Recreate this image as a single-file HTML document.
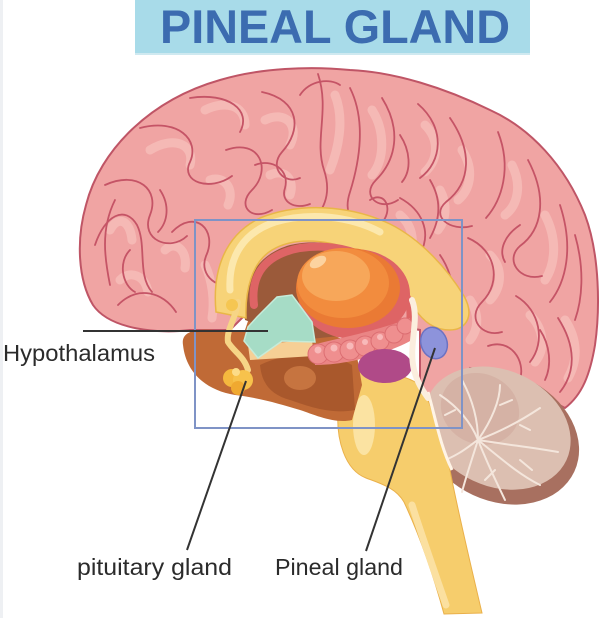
<!DOCTYPE html>
<html><head><meta charset="utf-8"><style>
html,body{margin:0;padding:0;background:#fff;}
svg{display:block;}
</style></head><body>
<svg width="601" height="618" viewBox="0 0 601 618" xmlns="http://www.w3.org/2000/svg">
<rect x="0" y="0" width="601" height="618" fill="#ffffff"/>
<rect x="0" y="0" width="3" height="618" fill="#eef0f3"/>

<!-- Title -->
<rect x="135" y="0" width="395" height="55" fill="#cfe9f0"/>
<rect x="135" y="0" width="395" height="53" fill="#a8dbe9"/>
<text x="335" y="43" text-anchor="middle" font-family="Liberation Sans, sans-serif" font-weight="bold" font-size="47" fill="#3c6cb0" textLength="350" lengthAdjust="spacingAndGlyphs">PINEAL GLAND</text>

<!-- Cerebrum -->
<path d="M190 330 C160 334 110 330 93 305 C78 280 76 240 86 205 C100 150 150 100 220 80 C260 68 310 66 350 70 C395 72 445 88 490 110 C530 128 565 165 585 215 C600 255 600 310 595 345 C590 375 582 395 565 408 C540 395 510 375 470 368 L445 400 L420 395 L420 330 L260 300 L230 330 Z" fill="#f0a4a3" stroke="#bf5566" stroke-width="2"/>
<!-- gyri highlights -->
<g fill="none" stroke="#f6bcb8" stroke-width="9" stroke-linecap="round" opacity="0.9">
<path d="M110 230 C118 215 130 220 132 240"/>
<path d="M150 150 C175 135 195 145 190 165"/>
<path d="M205 110 C225 100 245 105 245 125"/>
<path d="M265 120 C285 110 300 125 290 145"/>
<path d="M335 95 C345 120 338 150 330 170"/>
<path d="M372 110 C385 130 385 160 372 175"/>
<path d="M425 125 C440 140 438 160 425 172"/>
<path d="M462 150 C475 170 470 190 458 200"/>
<path d="M512 165 C522 185 518 205 505 215"/>
<path d="M545 215 C558 240 555 265 545 280"/>
<path d="M490 255 C505 270 500 290 490 300"/>
<path d="M530 315 C545 330 545 350 535 362"/>
<path d="M565 320 C578 340 578 360 568 378"/>
<path d="M210 180 C225 175 235 190 228 205"/>
<path d="M165 250 C175 240 188 250 185 268"/>
<path d="M120 280 C130 270 145 275 148 292"/>
<path d="M205 265 C212 280 215 300 212 318"/>
<path d="M470 300 C480 315 478 330 470 340"/>
<path d="M400 215 C412 225 415 240 410 255"/>
<path d="M270 175 C285 168 295 180 290 195"/>
<path d="M440 190 C448 205 446 220 438 230"/>
</g>
<!-- sulci -->
<g fill="none" stroke="#c55466" stroke-width="1.8" stroke-linecap="round">
<path d="M95 245 C105 215 125 205 137 225 C147 245 137 275 152 292"/>
<path d="M118 305 C138 285 163 292 176 312"/>
<path d="M105 185 C138 170 160 190 150 215 C140 240 170 252 187 236"/>
<path d="M140 128 C178 118 200 140 190 162 C180 182 210 192 232 176"/>
<path d="M190 98 C228 92 252 110 240 132"/>
<path d="M172 232 C195 208 218 230 206 256 C198 276 220 292 236 282"/>
<path d="M226 150 C260 138 272 170 252 190 C236 206 252 222 272 210"/>
<path d="M262 92 C300 100 302 130 282 152 C268 168 285 185 300 178"/>
<path d="M318 74 C330 110 314 140 324 170 C334 200 318 215 308 228"/>
<path d="M350 88 C366 120 360 160 350 192 C344 210 350 222 360 226"/>
<path d="M382 98 C402 130 396 160 376 180 C360 196 380 212 398 200"/>
<path d="M418 104 C446 128 442 162 420 178"/>
<path d="M450 118 C472 150 472 182 446 202 C430 216 450 232 472 226"/>
<path d="M498 132 C512 168 502 200 486 218"/>
<path d="M528 160 C548 198 542 230 520 246 C504 260 520 282 542 276"/>
<path d="M560 205 C574 248 566 282 550 302"/>
<path d="M468 238 C496 250 502 282 482 302 C466 318 482 338 502 332"/>
<path d="M516 296 C540 310 546 342 530 362"/>
<path d="M558 318 C576 346 576 372 560 392"/>
<path d="M400 198 C422 210 432 232 420 254 C412 270 428 285 440 280"/>
<path d="M440 255 C456 278 452 300 462 322"/>
<path d="M488 346 C510 338 526 360 520 380"/>
<path d="M235 240 C225 260 228 290 232 318"/>
<path d="M115 200 C100 230 105 260 110 285"/>
<path d="M300 95 C310 80 330 78 340 85"/>
<path d="M370 200 C385 190 395 210 380 225"/>
<path d="M255 165 C272 158 290 170 285 188 C280 202 295 210 310 204"/>
<path d="M430 180 C442 200 440 220 430 238"/>
<path d="M575 235 C585 270 582 300 575 320"/>
<path d="M160 190 C170 205 168 222 158 232"/>
<path d="M130 250 C118 262 122 285 135 292"/>
<path d="M400 135 C410 150 412 170 402 182"/>
<path d="M520 225 C505 235 498 250 505 262"/>
<path d="M540 330 C550 345 552 365 545 380"/>
</g>

<!-- Cerebellum -->
<g transform="rotate(25 500 437)">
<ellipse cx="500" cy="437" rx="82" ry="64" fill="#a87060"/>
<ellipse cx="494" cy="430" rx="76" ry="58" fill="#dcbfb1"/>
<ellipse cx="470" cy="420" rx="40" ry="35" fill="#d2ad9f" opacity="0.7"/>
</g>
<g fill="none" stroke="#f4e6dc" stroke-width="2" stroke-linecap="round">
<path d="M440 462 C460 455 470 445 478 440"/>
<path d="M478 440 C470 420 455 405 440 395"/>
<path d="M478 440 C478 415 470 395 462 380"/>
<path d="M478 440 C492 420 500 400 500 385"/>
<path d="M478 440 C505 430 525 418 540 408"/>
<path d="M478 440 C510 445 535 448 558 452"/>
<path d="M478 440 C505 462 520 475 540 485"/>
<path d="M478 440 C490 470 498 485 505 500"/>
<path d="M478 440 C470 465 465 480 462 492"/>
<path d="M455 410 L445 415 M500 405 L512 400 M520 425 L530 430 M520 460 L532 470 M495 470 L485 480"/>
</g>

<!-- Brainstem -->
<path d="M342 378 C362 366 402 372 422 386 C434 412 442 440 450 470 C458 512 470 562 482 613 L444 614 C432 570 418 532 404 502 C396 488 382 484 366 478 C345 470 336 440 338 410 C339 395 340 386 342 378 Z" fill="#f6cd6c" stroke="#eab04a" stroke-width="1"/>
<ellipse cx="364" cy="425" rx="11" ry="30" fill="#fbe3a2"/>
<path d="M412 505 C420 530 432 565 446 605" stroke="#fbe0a0" stroke-width="7" fill="none" stroke-linecap="round"/>
<path d="M428 392 C436 420 440 445 452 470" stroke="#fff4e6" stroke-width="3" fill="none"/>

<!-- Brown region -->
<path d="M183 345 C181 333 192 328 215 330 L245 330 L255 300 L300 320 L355 345 L362 385 L352 420 C335 424 315 415 300 410 C280 404 260 398 235 395 C205 390 186 372 183 345 Z" fill="#c06a36"/>
<path d="M260 365 C290 350 330 352 352 365 L355 410 C330 415 305 405 290 400 C272 395 262 385 260 365 Z" fill="#a9582c"/>
<ellipse cx="300" cy="378" rx="16" ry="12" fill="#c67440"/>

<!-- dark brown behind thalamus -->
<path d="M245 320 C240 285 255 255 290 245 C320 238 360 245 390 265 L400 330 L300 340 Z" fill="#9b5a3a"/>

<!-- Corpus callosum arch -->
<path d="M216 312 C212 270 225 235 260 218 C300 202 350 205 390 224 C422 240 448 270 464 296 C475 316 466 330 450 330 C434 330 424 322 414 308 C402 288 382 264 352 250 C322 238 292 238 272 250 C252 262 245 290 246 318 Z" fill="#f7d378" stroke="#e9b648" stroke-width="1.5"/>
<path d="M230 290 C228 255 245 232 275 222 C310 212 350 216 380 232" fill="none" stroke="#fce8ad" stroke-width="7" stroke-linecap="round"/>

<!-- red ring & thalamus -->
<ellipse cx="354" cy="294" rx="56" ry="45" fill="#de6465"/>
<path d="M254 305 C250 272 268 254 300 248 C345 241 390 260 408 300 C413 315 410 328 404 334" fill="none" stroke="#de6465" stroke-width="8" stroke-linecap="round"/>
<ellipse cx="348" cy="288" rx="52" ry="40" fill="#ea7a34"/>
<ellipse cx="343" cy="283" rx="46" ry="35" fill="#f28c3e"/>
<ellipse cx="336" cy="276" rx="34" ry="25" fill="#f7a75a"/>
<ellipse cx="318" cy="262" rx="9" ry="5" fill="#fcd3a0" transform="rotate(-30 318 262)"/>

<!-- yellow strip to pituitary -->
<path d="M238 302 C236 318 226 330 228 342 C234 352 244 356 248 370" fill="none" stroke="#f6d586" stroke-width="6" stroke-linecap="round"/>
<path d="M248 345 L312 340 L314 356 L250 360 Z" fill="#f6cf95"/>
<!-- Hypothalamus green -->
<path d="M257 317 L277 297 L292 295 L312 322 L315 342 L282 341 L258 358 L244 341 L248 327 Z" fill="#a6dcc6" stroke="#c6ebd9" stroke-width="1.5"/>
<circle cx="232" cy="305" r="6" fill="#f5c652"/>

<!-- pink bumps -->
<path d="M312 345 C340 338 380 330 410 318 L412 340 C385 355 345 365 315 365 Z" fill="#ea8585"/>
<g fill="#ef8f8f" stroke="#dc6e72" stroke-width="1">
<circle cx="318" cy="354" r="10"/>
<circle cx="334" cy="352" r="10"/>
<circle cx="350" cy="350" r="10"/>
<circle cx="365" cy="346" r="10"/>
<circle cx="380" cy="341" r="9"/>
<circle cx="394" cy="334" r="9"/>
<circle cx="405" cy="326" r="8"/>
</g>
<g fill="#f8b9b9"><circle cx="318" cy="350" r="3.5"/><circle cx="334" cy="348" r="3.5"/><circle cx="350" cy="346" r="3.5"/><circle cx="365" cy="342" r="3"/><circle cx="380" cy="337" r="3"/></g>
<!-- purple -->
<ellipse cx="385" cy="366" rx="27" ry="17" fill="#b04a88"/>

<!-- cream strip & pineal -->
<path d="M412 300 C420 320 408 345 414 370 C418 385 424 392 428 398" fill="none" stroke="#fbeede" stroke-width="6" stroke-linecap="round"/>
<ellipse cx="434" cy="343" rx="13" ry="16" fill="#8d93db" stroke="#6c72c2" stroke-width="1.5" transform="rotate(-20 434 343)"/>

<!-- pituitary -->
<circle cx="232" cy="378" r="9" fill="#f5b83e"/>
<circle cx="243" cy="380" r="10" fill="#f7c24c"/>
<circle cx="238" cy="388" r="7" fill="#f0a930"/>
<circle cx="236" cy="372" r="4" fill="#fcdc88"/>

<!-- Box -->
<rect x="195" y="220" width="267" height="208" fill="none" stroke="#7f93c6" stroke-width="2"/>

<!-- Leader lines -->
<g stroke="#333" stroke-width="2" fill="none">
<line x1="83" y1="331" x2="268" y2="331"/>
<line x1="187" y1="550" x2="246" y2="381"/>
<line x1="366" y1="551" x2="435" y2="348"/>
</g>

<!-- Labels -->
<g font-family="Liberation Sans, sans-serif" font-size="23" fill="#2b2b2b">
<text x="3" y="361" textLength="152" lengthAdjust="spacingAndGlyphs">Hypothalamus</text>
<text x="77" y="575" textLength="155" lengthAdjust="spacingAndGlyphs">pituitary gland</text>
<text x="275" y="575" textLength="128" lengthAdjust="spacingAndGlyphs">Pineal gland</text>
</g>
</svg>
</body></html>
